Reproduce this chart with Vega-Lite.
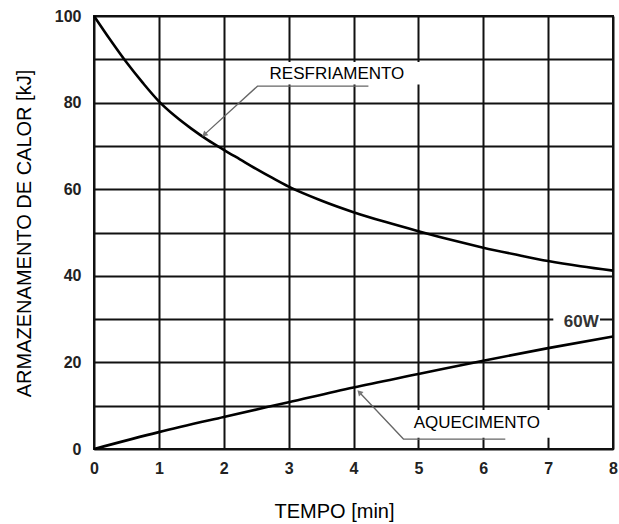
{
  "$schema": "https://vega.github.io/schema/vega-lite/v6.json",
  "width": 519,
  "height": 433,
  "autosize": {"type": "none"},
  "padding": {"left": 94, "top": 16, "right": 6, "bottom": 75},
  "background": "#ffffff",
  "config": {
    "view": {"stroke": "#111111", "strokeWidth": 2},
    "font": "Liberation Sans"
  },
  "datasets": {
    "curves": [
      {"s": "RESFRIAMENTO", "t": 0, "v": 100},
      {"s": "RESFRIAMENTO", "t": 0.25, "v": 94.5},
      {"s": "RESFRIAMENTO", "t": 0.5, "v": 89.3},
      {"s": "RESFRIAMENTO", "t": 0.75, "v": 84.6},
      {"s": "RESFRIAMENTO", "t": 1, "v": 80.3},
      {"s": "RESFRIAMENTO", "t": 1.25, "v": 76.9},
      {"s": "RESFRIAMENTO", "t": 1.5, "v": 74.0},
      {"s": "RESFRIAMENTO", "t": 1.75, "v": 71.4},
      {"s": "RESFRIAMENTO", "t": 2, "v": 69.1},
      {"s": "RESFRIAMENTO", "t": 2.25, "v": 66.9},
      {"s": "RESFRIAMENTO", "t": 2.5, "v": 64.7},
      {"s": "RESFRIAMENTO", "t": 2.75, "v": 62.6},
      {"s": "RESFRIAMENTO", "t": 3, "v": 60.6},
      {"s": "RESFRIAMENTO", "t": 3.5, "v": 57.4},
      {"s": "RESFRIAMENTO", "t": 4, "v": 54.7},
      {"s": "RESFRIAMENTO", "t": 4.5, "v": 52.4},
      {"s": "RESFRIAMENTO", "t": 5, "v": 50.3},
      {"s": "RESFRIAMENTO", "t": 5.5, "v": 48.3},
      {"s": "RESFRIAMENTO", "t": 6, "v": 46.5},
      {"s": "RESFRIAMENTO", "t": 6.5, "v": 44.9},
      {"s": "RESFRIAMENTO", "t": 7, "v": 43.4},
      {"s": "RESFRIAMENTO", "t": 7.5, "v": 42.2},
      {"s": "RESFRIAMENTO", "t": 8, "v": 41.2},
      {"s": "AQUECIMENTO", "t": 0, "v": 0},
      {"s": "AQUECIMENTO", "t": 1, "v": 3.9},
      {"s": "AQUECIMENTO", "t": 2, "v": 7.4},
      {"s": "AQUECIMENTO", "t": 3, "v": 10.8},
      {"s": "AQUECIMENTO", "t": 4, "v": 14.2},
      {"s": "AQUECIMENTO", "t": 5, "v": 17.3},
      {"s": "AQUECIMENTO", "t": 6, "v": 20.4},
      {"s": "AQUECIMENTO", "t": 7, "v": 23.3},
      {"s": "AQUECIMENTO", "t": 8, "v": 26.0}
    ],
    "boxes": [
      {"k": "RESFRIAMENTO", "t": 2.6, "t2": 5.03, "v": 84.2, "v2": 89.4},
      {"k": "AQUECIMENTO", "t": 4.8, "t2": 7.07, "v": 2.6, "v2": 9.0},
      {"k": "60W", "t": 7.08, "t2": 7.8, "v": 27.4, "v2": 31.8}
    ],
    "leaders": [
      {"g": "r", "o": 1, "t": 4.23, "v": 83.8},
      {"g": "r", "o": 2, "t": 2.52, "v": 83.8},
      {"g": "r", "o": 3, "t": 1.70, "v": 72.6},
      {"g": "a", "o": 1, "t": 6.34, "v": 2.3},
      {"g": "a", "o": 2, "t": 4.77, "v": 2.3},
      {"g": "a", "o": 3, "t": 4.09, "v": 13.1}
    ],
    "labels": [
      {"k": "RESFRIAMENTO", "t": 3.745, "v": 86.7},
      {"k": "AQUECIMENTO", "t": 5.9, "v": 5.9}
    ],
    "power": [
      {"k": "60W", "t": 7.51, "v": 29.4}
    ]
  },
  "layer": [
    {
      "data": {"name": "curves"},
      "mark": {"type": "line", "color": "#000000", "strokeWidth": 2.6, "interpolate": "monotone"},
      "encoding": {
        "x": {
          "field": "t", "type": "quantitative",
          "scale": {"domain": [0, 8], "nice": false, "zero": false},
          "axis": {
            "values": [0, 1, 2, 3, 4, 5, 6, 7, 8],
            "format": "d",
            "title": "TEMPO [min]",
            "grid": true, "gridColor": "#111111", "gridWidth": 2, "gridOpacity": 1,
            "ticks": false, "domain": false,
            "labelFont": "Liberation Sans", "labelFontSize": 16, "labelFontWeight": "bold",
            "labelColor": "#222222", "labelPadding": 11, "labelFlush": false, "labelOverlap": false,
            "labelBaseline": "top",
            "titleFont": "Liberation Sans", "titleFontSize": 20, "titleFontWeight": "normal",
            "titleColor": "#000000", "titleX": 240, "titleY": 68, "titleBaseline": "alphabetic", "titleAlign": "center"
          }
        },
        "y": {
          "field": "v", "type": "quantitative",
          "scale": {"domain": [0, 100], "nice": false},
          "axis": {
            "values": [0, 10, 20, 30, 40, 50, 60, 70, 80, 90, 100],
            "labelExpr": "datum.value % 20 == 0 ? datum.label : ''",
            "title": "ARMAZENAMENTO DE CALOR [kJ]",
            "grid": true, "gridColor": "#111111", "gridWidth": 2, "gridOpacity": 1,
            "ticks": false, "domain": false,
            "labelFont": "Liberation Sans", "labelFontSize": 16, "labelFontWeight": "bold",
            "labelColor": "#222222", "labelPadding": 13, "labelFlush": false, "labelOverlap": false,
            "titleFont": "Liberation Sans", "titleFontSize": 20, "titleFontWeight": "normal",
            "titleColor": "#000000", "titleX": -64, "titleY": 217, "titleAngle": -90,
            "titleBaseline": "alphabetic", "titleAlign": "center"
          }
        },
        "detail": {"field": "s"}
      }
    },
    {
      "data": {"name": "boxes"},
      "mark": {"type": "rect", "color": "#ffffff", "opacity": 1},
      "encoding": {
        "x": {"field": "t", "type": "quantitative"},
        "x2": {"field": "t2"},
        "y": {"field": "v", "type": "quantitative"},
        "y2": {"field": "v2"}
      }
    },
    {
      "data": {"name": "leaders"},
      "mark": {"type": "line", "color": "#666666", "strokeWidth": 1.3},
      "encoding": {
        "x": {"field": "t", "type": "quantitative"},
        "y": {"field": "v", "type": "quantitative"},
        "detail": {"field": "g"},
        "order": {"field": "o"}
      }
    },
    {
      "data": {"name": "leaders"},
      "transform": [{"filter": "datum.o == 3 && datum.g == 'r'"}],
      "mark": {"type": "point", "shape": "triangle-up", "filled": true, "color": "#777777", "size": 40, "angle": 228, "opacity": 1},
      "encoding": {
        "x": {"field": "t", "type": "quantitative"},
        "y": {"field": "v", "type": "quantitative"}
      }
    },
    {
      "data": {"name": "leaders"},
      "transform": [{"filter": "datum.o == 3 && datum.g == 'a'"}],
      "mark": {"type": "point", "shape": "triangle-up", "filled": true, "color": "#777777", "size": 40, "angle": 316, "opacity": 1},
      "encoding": {
        "x": {"field": "t", "type": "quantitative"},
        "y": {"field": "v", "type": "quantitative"}
      }
    },
    {
      "data": {"name": "labels"},
      "mark": {"type": "text", "font": "Liberation Sans", "fontSize": 17, "color": "#000000", "align": "center", "baseline": "middle"},
      "encoding": {
        "x": {"field": "t", "type": "quantitative"},
        "y": {"field": "v", "type": "quantitative"},
        "text": {"field": "k"}
      }
    },
    {
      "data": {"name": "power"},
      "mark": {"type": "text", "font": "Liberation Sans", "fontSize": 17, "fontWeight": "bold", "color": "#333333", "align": "center", "baseline": "middle"},
      "encoding": {
        "x": {"field": "t", "type": "quantitative"},
        "y": {"field": "v", "type": "quantitative"},
        "text": {"field": "k"}
      }
    }
  ]
}
